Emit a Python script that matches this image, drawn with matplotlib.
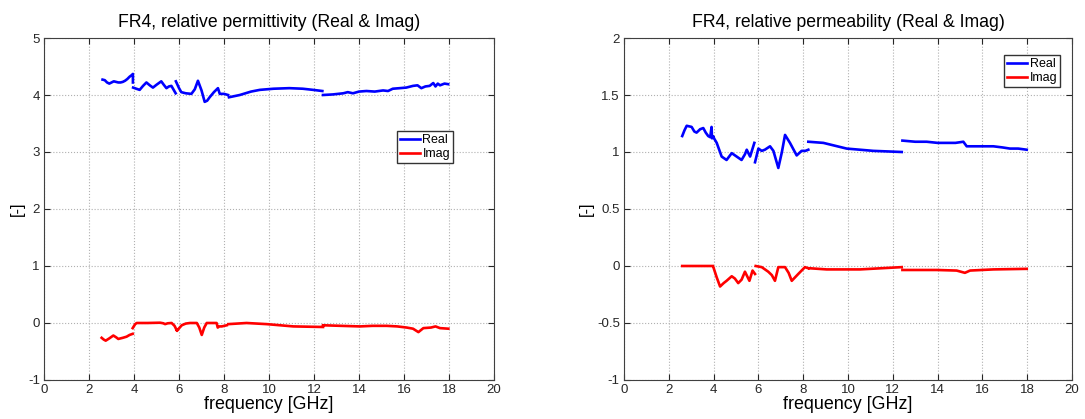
import matplotlib.pyplot as plt
import numpy as np

nan = np.nan

# FR4 relative permittivity, real part (bands separated by nan)
eps_re_f = [2.6, 2.7, 2.8, 2.9, 3.0, 3.1, 3.2, 3.3, 3.4, 3.5, 3.6, 3.7, 3.8, 3.9, 3.95, 3.95, nan,
            3.96, 4.1, 4.25, 4.4, 4.55, 4.7, 4.84, 5.0, 5.21, 5.32, 5.44, 5.55, 5.66, 5.85, nan,
            5.86, 6.0, 6.1, 6.3, 6.55, 6.7, 6.84, 7.0, 7.14, 7.25, 7.36, 7.55, 7.73, 7.81, 8.0, 8.18, nan,
            8.22, 8.7, 9.2, 9.59, 10.2, 10.9, 11.5, 11.96, 12.37, nan,
            12.4, 12.84, 13.3, 13.5, 13.73, 14.0, 14.33, 14.7, 15.07, 15.29, 15.5, 15.81, 16.1,
            16.4, 16.6, 16.77, 16.95, 17.14, 17.3, 17.4, 17.5, 17.6, 17.8, 17.96]
eps_re = [4.27, 4.26, 4.22, 4.20, 4.22, 4.24, 4.23, 4.22, 4.22, 4.23, 4.25, 4.28, 4.32, 4.35, 4.37, 4.22, nan,
          4.13, 4.11, 4.09, 4.16, 4.22, 4.17, 4.13, 4.18, 4.24, 4.18, 4.12, 4.15, 4.16, 4.03, nan,
          4.24, 4.12, 4.05, 4.03, 4.02, 4.10, 4.25, 4.08, 3.88, 3.90, 3.96, 4.05, 4.12, 4.02, 4.02, 4.00, nan,
          3.96, 4.00, 4.06, 4.09, 4.11, 4.12, 4.11, 4.09, 4.07, nan,
          4.00, 4.01, 4.03, 4.05, 4.03, 4.06, 4.07, 4.06, 4.08, 4.07, 4.11, 4.12, 4.13,
          4.16, 4.17, 4.12, 4.15, 4.16, 4.21, 4.15, 4.20, 4.17, 4.20, 4.19]

# FR4 relative permittivity, imaginary part
eps_im_f = [2.56, 2.65, 2.74, 2.9, 3.08, 3.2, 3.3, 3.5, 3.67, 3.8, 3.94, nan,
            3.94, 4.05, 4.12, 4.6, 5.16, 5.3, 5.38, 5.5, 5.67, 5.8, 5.9, nan,
            5.92, 6.12, 6.3, 6.49, 6.79, 6.9, 7.01, 7.12, 7.23, 7.5, 7.67, 7.72, 7.79, 7.9, 8.12, nan,
            8.19, 9.0, 9.9, 11.08, 12.4, nan,
            12.4, 13.2, 14.04, 14.6, 15.23, 15.7, 16.12, 16.4, 16.64, 16.86, 17.2, 17.4, 17.6, 17.97]
eps_im = [-0.26, -0.29, -0.31, -0.27, -0.22, -0.25, -0.28, -0.26, -0.24, -0.21, -0.19, nan,
          -0.09, -0.02, 0.0, 0.0, 0.005, -0.005, -0.02, -0.005, 0.0, -0.05, -0.13, nan,
          -0.13, -0.04, -0.01, 0.0, 0.0, -0.08, -0.21, -0.08, 0.0, 0.0, 0.0, -0.08, -0.06, -0.06, -0.04, nan,
          -0.02, 0.0, -0.02, -0.06, -0.07, nan,
          -0.04, -0.05, -0.06, -0.05, -0.05, -0.06, -0.08, -0.10, -0.16, -0.09, -0.08, -0.06, -0.09, -0.10]

# FR4 relative permeability, real part
mu_re_f = [2.6, 2.7, 2.8, 3.02, 3.14, 3.24, 3.4, 3.54, 3.65, 3.76, 3.85, 3.91, 3.93, 3.99, nan,
           3.99, 4.14, 4.25, 4.36, 4.58, 4.81, 5.03, 5.25, 5.4, 5.48, 5.63, 5.82, nan,
           5.85, 6.0, 6.15, 6.29, 6.52, 6.67, 6.89, 7.05, 7.19, 7.41, 7.71, 7.93, 8.1, 8.23, nan,
           8.23, 8.9, 9.94, 11.13, 12.4, nan,
           12.43, 13.0, 13.51, 14.0, 14.4, 14.8, 15.15, 15.3, 15.8, 16.49, 16.9, 17.23, 17.6, 17.98]
mu_re = [1.14, 1.19, 1.23, 1.22, 1.18, 1.17, 1.20, 1.21, 1.17, 1.14, 1.13, 1.22, 1.12, 1.13, nan,
         1.13, 1.08, 1.02, 0.96, 0.93, 0.99, 0.96, 0.93, 0.98, 1.02, 0.96, 1.08, nan,
         0.91, 1.03, 1.01, 1.02, 1.05, 1.01, 0.86, 1.00, 1.15, 1.08, 0.97, 1.01, 1.01, 1.02, nan,
         1.09, 1.08, 1.03, 1.01, 1.00, nan,
         1.10, 1.09, 1.09, 1.08, 1.08, 1.08, 1.09, 1.05, 1.05, 1.05, 1.04, 1.03, 1.03, 1.02]

# FR4 relative permeability, imaginary part
mu_im_f = [2.6, 3.96, nan,
           3.99, 4.14, 4.29, 4.45, 4.58, 4.81, 4.95, 5.1, 5.25, 5.4, 5.6, 5.74, 5.85, nan,
           5.88, 6.15, 6.44, 6.6, 6.74, 6.89, 7.19, 7.35, 7.49, 7.78, 8.08, 8.23, nan,
           8.3, 9.05, 10.54, 12.4, nan,
           12.43, 13.96, 14.85, 15.22, 15.45, 16.49, 17.98]
mu_im = [0.0, 0.0, nan,
         -0.01, -0.10, -0.18, -0.15, -0.13, -0.09, -0.11, -0.15, -0.12, -0.05, -0.13, -0.04, -0.07, nan,
         0.0, -0.01, -0.05, -0.08, -0.13, -0.01, -0.01, -0.06, -0.13, -0.07, -0.01, -0.02, nan,
         -0.02, -0.03, -0.03, -0.01, nan,
         -0.035, -0.035, -0.04, -0.06, -0.04, -0.03, -0.025]

plt.rcParams['font.family'] = ['Liberation Sans', 'DejaVu Sans']
plt.rcParams['axes.unicode_minus'] = False

fig = plt.figure(figsize=(10.85, 4.19), dpi=100)
ax1 = fig.add_axes([0.0406, 0.0931, 0.4147, 0.8162])
ax2 = fig.add_axes([0.5751, 0.0931, 0.4129, 0.8162])


def style(ax, title, yticks, ylabels):
    ax.set_xlim(0, 20)
    ax.set_ylim(yticks[0], yticks[-1])
    ax.set_xticks(range(0, 21, 2))
    ax.set_yticks(yticks)
    ax.set_yticklabels(ylabels)
    ax.tick_params(direction='in', top=True, right=True, labelsize=9.5, length=4, pad=3,
                   colors='#262626')
    for s in ax.spines.values():
        s.set_color('#404040')
    ax.grid(True, linestyle=':', color='#b0b0b0', linewidth=0.8)
    ax.set_title(title, fontsize=12.7, pad=8)
    ax.set_xlabel('frequency [GHz]', fontsize=12.9, labelpad=0)
    ax.set_ylabel('[-]', fontsize=12, labelpad=2)


ax1.plot(eps_re_f, eps_re, color='#0000ff', lw=1.9, label='Real')
ax1.plot(eps_im_f, eps_im, color='#ff0000', lw=1.9, label='Imag')
style(ax1, 'FR4, relative permittivity (Real & Imag)',
      [-1, 0, 1, 2, 3, 4, 5], ['-1', '0', '1', '2', '3', '4', '5'])
ax1.legend(loc='upper left', bbox_to_anchor=(0.784, 0.727), fontsize=9, fancybox=False,
           edgecolor='#333333', framealpha=1, handlelength=1.6, handletextpad=0.2,
           borderpad=0.25, labelspacing=0.15, borderaxespad=0)

ax2.plot(mu_re_f, mu_re, color='#0000ff', lw=1.9, label='Real')
ax2.plot(mu_im_f, mu_im, color='#ff0000', lw=1.9, label='Imag')
style(ax2, 'FR4, relative permeability (Real & Imag)',
      [-1, -0.5, 0, 0.5, 1, 1.5, 2], ['-1', '-0.5', '0', '0.5', '1', '1.5', '2'])
ax2.legend(loc='upper left', bbox_to_anchor=(0.848, 0.95), fontsize=9, fancybox=False,
           edgecolor='#333333', framealpha=1, handlelength=1.6, handletextpad=0.2,
           borderpad=0.25, labelspacing=0.15, borderaxespad=0)

plt.savefig('out.png', dpi=100)
plt.close()
